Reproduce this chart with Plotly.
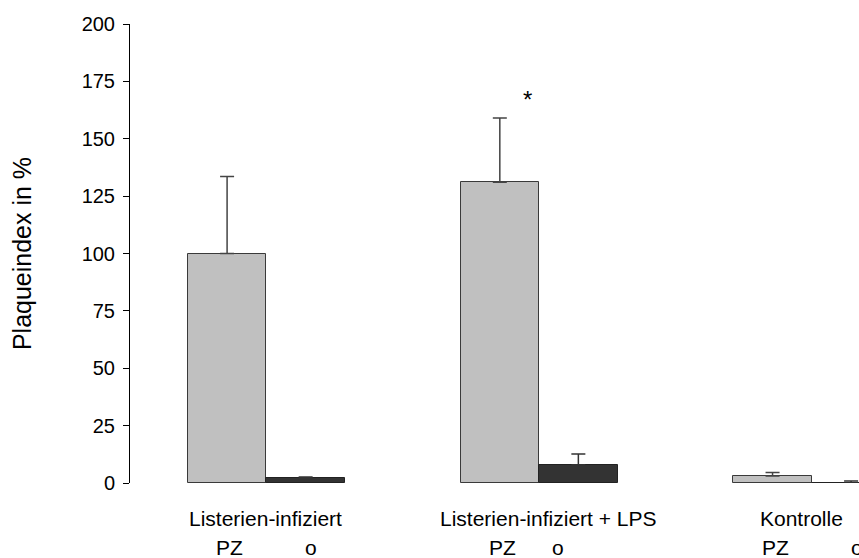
import plotly.graph_objects as go

categories = ["Listerien-infiziert", "Listerien-infiziert + LPS", "Kontrolle"]
sub_labels = ["PZ", "o"]
pz_values = [100, 131, 3]
pz_errors = [33.5, 28, 1.6]
o_values = [2, 8, 0]
o_errors = [0.6, 4.6, 0.9]
y_ticks = [0, 25, 50, 75, 100, 125, 150, 175, 200]
star_label = "*"
star_value = 167

bw = 0.288
xs = list(range(len(categories)))
pz_x = [x - bw / 2 for x in xs]
o_x = [x + bw / 2 for x in xs]

fig = go.Figure()
fig.add_trace(go.Bar(
    x=pz_x, y=pz_values, width=bw,
    marker=dict(color="#c0c0c0", line=dict(color="#3a3a3a", width=1)),
    error_y=dict(type="data", array=pz_errors, arrayminus=[0] * 3, symmetric=False,
                 color="#444444", thickness=1.5, width=7),
    showlegend=False,
))
fig.add_trace(go.Bar(
    x=o_x, y=o_values, width=bw,
    marker=dict(color="#333333", line=dict(color="#222222", width=1)),
    error_y=dict(type="data", array=o_errors, arrayminus=[0] * 3, symmetric=False,
                 color="#333333", thickness=1.5, width=7),
    showlegend=False,
))

font = "Liberation Sans, Arial, sans-serif"
cat_shift = [-0.005, 0.035, -0.037]
o_shift = [0.02, -0.075, 0.02]
for i, c in enumerate(categories):
    fig.add_annotation(x=xs[i] + cat_shift[i], y=-0.078, xref="x", yref="paper", text=c,
                       showarrow=False, font=dict(family=font, size=21, color="#000"),
                       yanchor="middle")
    fig.add_annotation(x=pz_x[i] + 0.01, y=-0.141, xref="x", yref="paper", text=sub_labels[0],
                       showarrow=False, font=dict(family=font, size=21, color="#000"),
                       yanchor="middle")
    fig.add_annotation(x=o_x[i] + o_shift[i], y=-0.141, xref="x", yref="paper", text=sub_labels[1],
                       showarrow=False, font=dict(family=font, size=21, color="#000"),
                       yanchor="middle")

fig.add_annotation(x=pz_x[1] + 0.103, y=star_value, xref="x", yref="y", text=star_label,
                   showarrow=False, font=dict(family=font, size=24, color="#000"),
                   yanchor="middle")

fig.update_layout(
    width=859, height=558,
    margin=dict(l=130, r=0, t=24, b=75),
    plot_bgcolor="white", paper_bgcolor="white",
    bargap=0,
    xaxis=dict(range=[-0.5, 2.173], showline=False, showticklabels=False, ticks="",
               showgrid=False, zeroline=False),
    yaxis=dict(range=[0, 200], tickvals=y_ticks, ticks="outside", ticklen=6, tickwidth=1,
               tickcolor="#000", showline=True, linecolor="#000", linewidth=1,
               showgrid=False, zeroline=False, ticklabelstandoff=4,
               tickfont=dict(family=font, size=20, color="#000"),
               title=dict(text="Plaqueindex in %", font=dict(family=font, size=25, color="#000"),
                          standoff=42)),
)

fig.write_html("out.html")
